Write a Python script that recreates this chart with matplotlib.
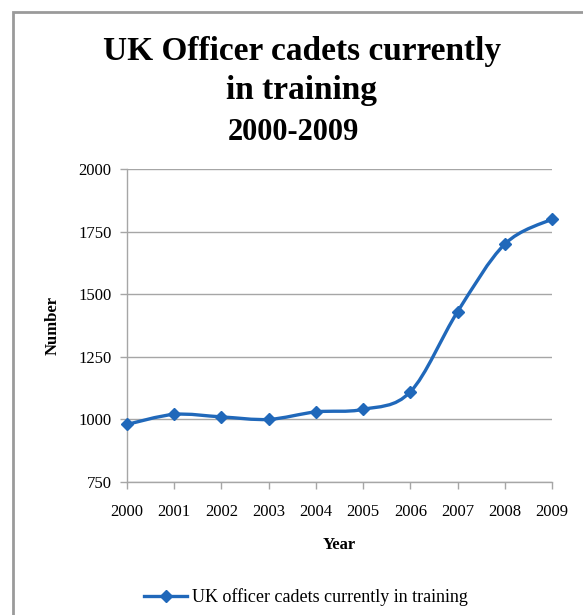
import matplotlib
matplotlib.use("Agg")
import matplotlib.pyplot as plt
from matplotlib.path import Path
from matplotlib.patches import PathPatch, Rectangle
from matplotlib.lines import Line2D
import numpy as np

years = ["2000", "2001", "2002", "2003", "2004", "2005", "2006", "2007", "2008", "2009"]
cadets = [980, 1020, 1010, 1000, 1030, 1040, 1110, 1430, 1700, 1800]
yticks = [750, 1000, 1250, 1500, 1750, 2000]
title = "UK Officer cadets currently\nin training"
subtitle = "2000-2009"
series_name = "UK officer cadets currently in training"

BLUE = "#2068BA"
W, H = 583, 615
fig = plt.figure(figsize=(W / 100, H / 100), dpi=100)
fig.patch.set_facecolor("white")

# outer chart frame (cropped at right/bottom)
fig.add_artist(Rectangle((13 / W, -0.1), 1.2, (H - 12) / H + 0.1, transform=fig.transFigure,
                         fill=False, edgecolor="#9a9a9a", linewidth=2))

ax = fig.add_axes([127 / W, 1 - 482 / H, (552 - 127) / W, (482 - 169) / H])
x = np.arange(len(years))
ax.set_xlim(0, len(years) - 1)
ax.set_ylim(750, 2000)
ax.set_yticks(yticks)
ax.set_yticklabels([str(v) for v in yticks])
ax.set_xticks(x)
ax.set_xticklabels(years)
ax.grid(axis="y", color="#a6a6a6", linewidth=1)
ax.set_axisbelow(True)
for s in ["top", "right"]:
    ax.spines[s].set_visible(False)
for s in ["left", "bottom"]:
    ax.spines[s].set_color("#a6a6a6")
    ax.spines[s].set_linewidth(1)
ax.tick_params(axis="both", colors="#a6a6a6", length=5, width=1, labelcolor="black",
               labelsize=12)
ax.tick_params(axis="x", pad=11)
ax.tick_params(axis="y", pad=6)
for lab in ax.get_xticklabels() + ax.get_yticklabels():
    lab.set_fontfamily("Liberation Serif")

# smoothed line (Catmull-Rom style Bezier like Excel)
pts = np.column_stack([x, cadets]).astype(float)
verts = [tuple(pts[0])]
codes = [Path.MOVETO]
n = len(pts)
for i in range(n - 1):
    p0 = pts[i - 1] if i > 0 else pts[i]
    p1 = pts[i]
    p2 = pts[i + 1]
    p3 = pts[i + 2] if i + 2 < n else pts[i + 1]
    c1 = p1 + (p2 - p0) / 6.0
    c2 = p2 - (p3 - p1) / 6.0
    verts += [tuple(c1), tuple(c2), tuple(p2)]
    codes += [Path.CURVE4] * 3
ax.add_patch(PathPatch(Path(verts, codes), facecolor="none", edgecolor=BLUE,
                       linewidth=2.4, clip_on=False, zorder=3))
ax.plot(x, cadets, linestyle="none", marker="D", markersize=6.5, color=BLUE,
        clip_on=False, zorder=4)

ax.set_ylabel("Number", fontfamily="Liberation Serif", fontweight="bold", fontsize=12,
              labelpad=13)
ax.set_xlabel("Year", fontfamily="Liberation Serif", fontweight="bold", fontsize=12,
              labelpad=12)

fig.text(302 / W, 1 - 71 / H, title, ha="center", va="center", fontsize=24,
         fontweight="bold", fontfamily="Liberation Serif", linespacing=1.3)
fig.text(293 / W, 1 - 132 / H, subtitle, ha="center", va="center", fontsize=22,
         fontweight="bold", fontfamily="Liberation Serif")

handle = Line2D([], [], color=BLUE, linewidth=2.4, marker="D", markersize=6.5)
fig.legend([handle], [series_name], loc="center", bbox_to_anchor=(306 / W, 1 - 597 / H),
           frameon=False, prop={"family": "Liberation Serif", "size": 13},
           handlelength=2.4, handletextpad=0.25)

fig.savefig("out.png", dpi=100)
